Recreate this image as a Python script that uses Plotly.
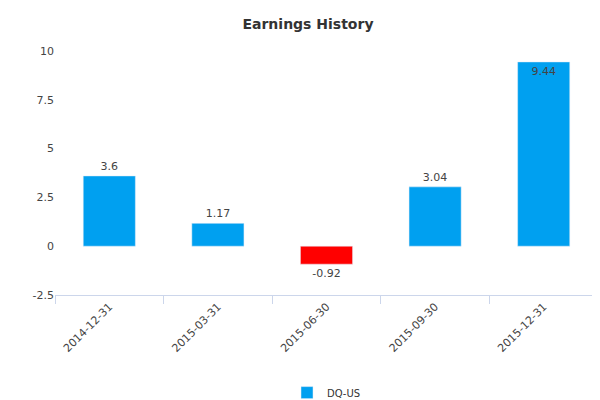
import plotly.graph_objects as go

dates = ["2014-12-31", "2015-03-31", "2015-06-30", "2015-09-30", "2015-12-31"]
values = [3.6, 1.17, -0.92, 3.04, 9.44]
labels = ["3.6", "1.17", "-0.92", "3.04", "9.44"]
colors = ["#00a0f0" if v >= 0 else "#ff0000" for v in values]
positions = ["outside", "outside", "outside", "outside", "inside"]

fig = go.Figure(go.Bar(
    x=dates, y=values, text=labels, textposition=positions,
    insidetextanchor="end", marker_color=colors, width=0.48,
    textfont=dict(color="#444", size=11), cliponaxis=False,
    name="DQ-US", showlegend=True,
))
fig.update_layout(
    width=600, height=400, plot_bgcolor="white", paper_bgcolor="white",
    margin=dict(l=47, r=10, t=43, b=113, autoexpand=False),
    font=dict(family="DejaVu Sans", size=11, color="#444"),
    title=dict(text="<b>Earnings History</b>", x=0.5, y=0.96, yref="container",
               xanchor="center", yanchor="middle",
               font=dict(size=14, color="#333")),
    yaxis=dict(range=[-2.5, 10], tickvals=[-2.5, 0, 2.5, 5, 7.5, 10],
               ticktext=["-2.5", "0", "2.5", "5", "7.5", "10"], automargin=False,
               showgrid=False, zeroline=False, ticks="", tickfont=dict(size=11, color="#444")),
    xaxis=dict(type="category", tickangle=-45, showline=True, linecolor="#ccd6eb",
               ticks="outside", tickcolor="#ccd6eb", ticklen=8, tickson="boundaries",
               automargin=False, showgrid=False, tickfont=dict(size=11, color="#444")),
    legend=dict(orientation="h", x=0.5, xanchor="center", y=-0.4, yanchor="middle",
                font=dict(size=10, color="#333")),
    annotations=[dict(text="www.capitalcube.com", xref="paper", yref="paper",
                      x=1.0, y=-0.46, xanchor="right", yanchor="middle", showarrow=False,
                      font=dict(size=9, color="#999"))],
)
fig.write_html("out.html")
